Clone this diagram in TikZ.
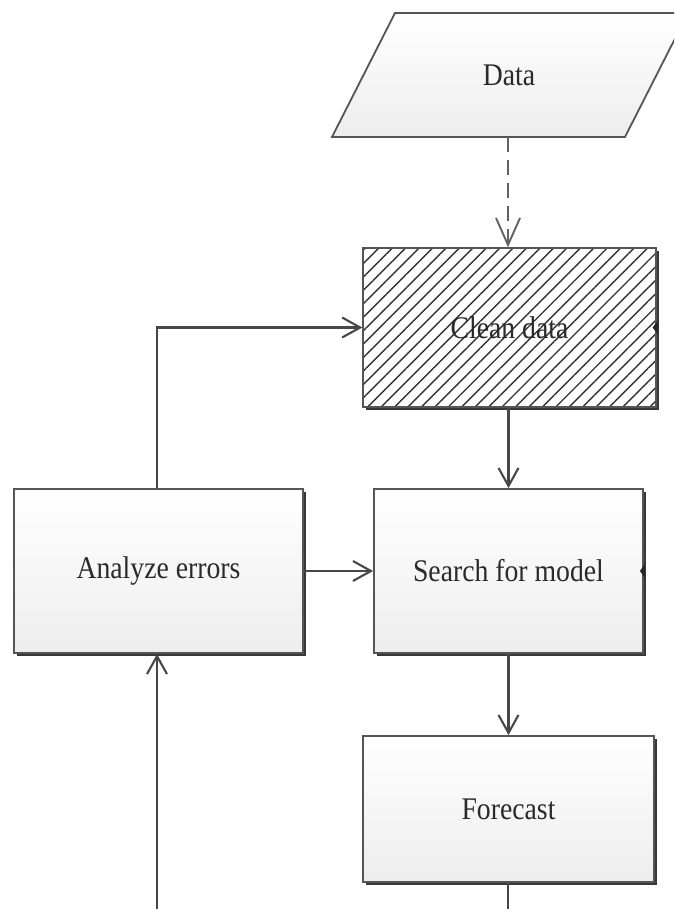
\documentclass[tikz,border=0pt]{standalone}
\usepackage{fontspec}
\setmainfont{Liberation Serif}[FakeStretch=0.88]
\usetikzlibrary{arrows.meta,shadows,patterns.meta}
\definecolor{edge}{HTML}{555555}
\definecolor{ink}{HTML}{2A2A2A}
\tikzset{
  flowbox/.style={draw=edge, line width=1.8pt, rectangle, inner sep=0pt,
    top color=white, bottom color=black!7, text=ink,
    font=\fontsize{31.5}{36}\selectfont,
    general shadow={shadow xshift=3pt, shadow yshift=-3pt, fill=black!78}},
  hatchbox/.style={draw=edge, line width=1.8pt, rectangle, inner sep=0pt,
    pattern={Lines[angle=45,distance=9.5pt,line width=1.4pt]}, pattern color=black!80,
    text=ink, font=\fontsize{31.5}{36}\selectfont},
  shadowfill/.style={fill=black!78},
  conn/.style={draw=black!72, line width=2.3pt,
    -{Straight Barb[length=18pt,width=20pt,line width=2.1pt]}},
  plainline/.style={draw=black!72, line width=2.3pt},
  dashconn/.style={draw=black!62, line width=2.6pt, dash pattern=on 15pt off 8pt,
    -{Straight Barb[length=27pt,width=24pt,line width=1.9pt]}},
  lbl/.style={text=ink, font=\fontsize{31.5}{36}\selectfont}
}
\begin{document}
\begin{tikzpicture}[x=1pt,y=-1pt]
\useasboundingbox (0,0) rectangle (674,909);
\clip (0,0) rectangle (674,909);
% Data parallelogram
\path[draw=edge, line width=1.8pt, top color=white, bottom color=black!7]
  (395,13) -- (688,13) -- (625,137) -- (332,137) -- cycle;
\node[lbl] (data) at (509,75) {Data};
\coordinate (dataB) at (508,137);
% shadow of the hatched box
\fill[shadowfill] (366,251) rectangle (659,410);
\fill[white] (363,248) rectangle (656,407);
% boxes
\node[hatchbox, minimum width=293pt, minimum height=159pt] (clean) at (509.5,327.5) {Clean data};
\node[flowbox, minimum width=289pt, minimum height=164pt] (ae) at (158.5,571) {Analyze errors};
\node[flowbox, minimum width=269pt, minimum height=164pt] (search) at (508.5,571) {Search for model};
\node[flowbox, minimum width=291pt, minimum height=146pt] (fc) at (508.5,809) {Forecast};
\coordinate (aeIn) at (157,915);
\coordinate (fcOut) at (508,915);
% connectors
\draw[dashconn] (dataB) -- (dataB |- clean.north);
\draw[conn] (ae.north -| 157,0) |- (clean.west);
\draw[conn] (clean.south -| search.north) -- (search.north);
\draw[conn] (ae.east) -- (search.west);
\draw[conn] (search.south) -- (fc.north);
\draw[conn] (aeIn) -- (aeIn |- ae.south);
\draw[plainline] (fc.south -| fcOut) -- (fcOut);
% small tips at right edges
\fill[black!85] (clean.east) ++(1,-7) -- ++(-5,7) -- ++(5,7) -- cycle;
\fill[black!85] (search.east) ++(1,-7) -- ++(-5,7) -- ++(5,7) -- cycle;
\end{tikzpicture}
\end{document}
